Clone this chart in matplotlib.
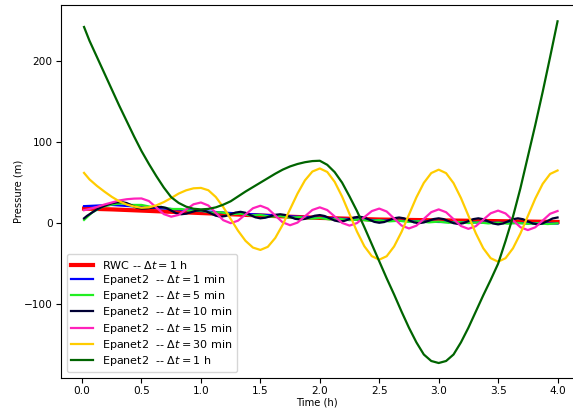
import matplotlib
matplotlib.use('Agg')
import matplotlib.pyplot as plt
import numpy as np

# time grids (h)
t_start = 1 / 60
t_quarter = [t_start] + [k / 4 for k in range(1, 17)]
t_twelfth = [t_start] + [k / 12 for k in range(1, 49)]
t_24 = [t_start] + [k / 24 for k in range(1, 97)]
t_16 = [t_start] + [k / 16 for k in range(1, 65)]

# RWC -- dt = 1 h
p_rwc = [18, 17, 15.5, 14, 12.5, 11, 9.5, 8, 6.5, 5.5, 4.5, 4, 3.5, 3, 2.5, 2, 1.5]

# Epanet2 -- dt = 1 min
p_1min = [21, 22.5, 20, 17.5, 15, 12.5, 10.5, 8.5, 6.5, 5, 3.5, 2.5, 1.5, 1, 0.5, 0, -0.5]

# Epanet2 -- dt = 5 min
p_5min = [4,
          13, 20, 23, 24.5, 22.5, 22.5, 20, 20, 17.5, 17.5, 15, 15.5,
          13, 13.5, 11, 11.8, 9.5, 10.2, 8, 8.8, 6.8, 7.5, 5.6, 6.4,
          4.6, 5.4, 3.7, 4.5, 2.9, 3.7, 2.2, 3.0, 1.6, 2.4, 1.0, 1.9,
          0.5, 1.4, 0.1, 1.0, -0.3, 0.6, -0.6, 0.3, -0.9, 0.0, -1.1, -0.2]

# Epanet2 -- dt = 10 min
p_10min = [6,
           9, 13, 17, 20, 22.5, 24.5, 25.7, 26,
           24.8, 22, 19.2, 18, 18.3, 19, 19.7, 20,
           18.7, 15.5, 12.3, 11, 11.7, 13.5, 15.3, 16,
           14.8, 12, 9.2, 8, 8.9, 11, 13.1, 14,
           12.8, 10, 7.2, 6, 6.7, 8.5, 10.3, 11,
           10.1, 7.75, 5.4, 4.5, 5.3, 7.25, 9.2, 10,
           8.8, 6, 3.2, 2, 2.9, 5, 7.1, 8,
           6.9, 4.25, 1.6, 0.5, 1.4, 3.75, 6.1, 7,
           6, 3.5, 1, 0, 0.9, 3, 5.1, 6,
           5, 2.5, 0, -1, 0, 2.5, 5, 6,
           4.9, 2.25, -0.4, -1.5, -0.4, 2.25, 4.9, 6,
           4.9, 2.25, -0.4, -1.5, -0.3, 2.75, 5.8, 7]

# Epanet2 -- dt = 15 min
p_15min = [16,
           17.5, 20, 23, 25.5, 28, 29.5, 30.3, 30.5,
           27.3, 19.25, 11.2, 8, 10.2, 16.75, 23.3, 25.5,
           21.8, 12.75, 3.7, 0, 3.1, 10.75, 18.4, 21.5,
           18, 9.5, 1, -2.5, 0.7, 8.5, 16.3, 19.5,
           16.2, 8.25, 0.3, -3, 0.1, 7.5, 14.9, 18,
           14.4, 5.75, -2.9, -6.5, -3.1, 5.25, 13.6, 17,
           13.5, 5, -3.5, -7, -3.7, 4.25, 12.2, 15.5,
           12, 3.5, -5, -8.5, -5.1, 3.25, 11.6, 15]

# Epanet2 -- dt = 30 min
p_30min = [62,
           54, 46, 39, 32.5, 27, 23, 20.5, 19,
           19.5, 22, 26, 31, 36.5, 40.5, 43, 43.5,
           40.6, 32.3, 19.9, 5.25, -9.4, -21.8, -30.1, -33,
           -29.2, -18.3, -2, 17.25, 36.5, 52.8, 63.7, 67.5,
           63.2, 51, 32.8, 11.25, -10.3, -28.5, -40.7, -45,
           -40.8, -28.7, -10.8, 10.5, 31.8, 49.7, 61.8, 66,
           61.7, 49.4, 31, 9.25, -12.5, -30.9, -43.2, -47.5,
           -43.2, -31, -12.8, 8.75, 30.3, 48.5, 60.7, 65]

# Epanet2 -- dt = 1 h
p_1h = [242,
        225, 205, 185, 165, 145, 126, 107, 89,
        73, 58, 44, 32, 25, 20.4, 17.8, 17,
        17.6, 19.5, 22.8, 27, 33, 39, 44.5, 50,
        55.5, 61, 66, 70, 73, 75.2, 76.6, 77,
        72, 63, 50, 33, 15, -5, -26, -47,
        -68, -88, -109, -129, -147, -162, -170, -172.5,
        -170, -162, -147, -129, -109, -89, -70, -50,
        -22, 8, 43, 82, 121, 162, 205, 249]

series = [
    (t_quarter, p_rwc, 'red', 3.0, r'RWC -- $\Delta t = 1$ h'),
    (t_quarter, p_1min, 'blue', 1.6, r'Epanet2  -- $\Delta t = 1$ min'),
    (t_twelfth, p_5min, '#22ee22', 1.6, r'Epanet2  -- $\Delta t = 5$ min'),
    (t_24, p_10min, '#000033', 1.6, r'Epanet2  -- $\Delta t = 10$ min'),
    (t_16, p_15min, '#ff22bb', 1.6, r'Epanet2  -- $\Delta t = 15$ min'),
    (t_16, p_30min, '#ffcc00', 1.6, r'Epanet2  -- $\Delta t = 30$ min'),
    (t_16, p_1h, '#006400', 1.6, r'Epanet2  -- $\Delta t = 1$ h'),
]

fig = plt.figure(figsize=(5.73, 4.08), dpi=100)
ax = fig.add_axes([0.1065, 0.0735, 0.8935, 0.914])
for t, p, c, lw, lab in series:
    ax.plot(t, p, color=c, linewidth=lw, label=lab)

ax.set_xlim(-0.177, 4.13)
ax.set_ylim(-191, 269)
ax.set_xticks([0, 0.5, 1.0, 1.5, 2.0, 2.5, 3.0, 3.5, 4.0])
ax.set_yticks([-100, 0, 100, 200])
ax.spines['right'].set_visible(False)
ax.tick_params(labelsize=7.6, pad=2.5)
ax.set_xlabel('Time (h)', fontsize=7.2, labelpad=0.5)
ax.set_ylabel('Pressure (m)', fontsize=7.2, labelpad=0.5)
ax.legend(loc='lower left', fontsize=8, labelspacing=0.2)
fig.savefig('out.png', dpi=100)
